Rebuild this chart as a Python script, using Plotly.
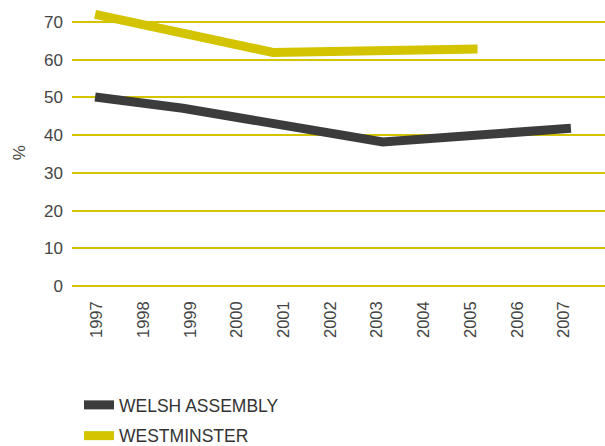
import plotly.graph_objects as go

# Turnout, percent
years = list(range(1997, 2008))
welsh_x = [1996.96, 1998.84, 2003.12, 2007.15]
welsh_y = [50.1, 47.1, 38.2, 41.8]
west_x = [1996.96, 2000.77, 2005.15]
west_y = [72.0, 61.9, 62.8]

gold = "#D4C400"
dark = "#3C3C3C"
font_family = "Liberation Sans, Arial, sans-serif"

fig = go.Figure()
fig.add_trace(go.Scatter(
    x=welsh_x, y=welsh_y, mode="lines", name="WELSH ASSEMBLY",
    line=dict(color=dark, width=9), legendgroup="a",
))
fig.add_trace(go.Scatter(
    x=west_x, y=west_y, mode="lines", name="WESTMINSTER",
    line=dict(color=gold, width=9), legendgroup="b",
))

fig.update_layout(
    width=605, height=446,
    margin=dict(l=72, r=0, t=3, b=158, autoexpand=False),
    paper_bgcolor="white", plot_bgcolor="white",
    font=dict(family=font_family, color="#444444", size=16),
    showlegend=True,
    legend=dict(
        xref="container", yref="container",
        x=79 / 605, y=1 - 387 / 446, xanchor="left", yanchor="top",
        tracegroupgap=5, font=dict(size=17.5, color="#333333"),
        bgcolor="rgba(0,0,0,0)", borderwidth=0,
    ),
    xaxis=dict(
        range=[1996.465, 2007.88], tickmode="array", tickvals=years,
        ticktext=[str(y) for y in years], tickangle=-90,
        showgrid=False, zeroline=False, showline=False, ticks="",
        ticklabelstandoff=9, tickfont=dict(size=16.5, color="#444444"),
        automargin=False,
    ),
    yaxis=dict(
        range=[-0.5, 75], tickmode="array", tickvals=list(range(0, 80, 10)),
        showgrid=True, gridcolor=gold, gridwidth=1.5, zeroline=False,
        showline=False, ticks="", ticklabelstandoff=8,
        tickfont=dict(size=17, color="#444444"), automargin=False,
    ),
    annotations=[dict(
        text="%", xref="paper", yref="paper", x=-0.12, y=0.475,
        showarrow=False, textangle=-90, font=dict(size=17, color="#444444"),
    )],
)

fig.write_html("out.html")
